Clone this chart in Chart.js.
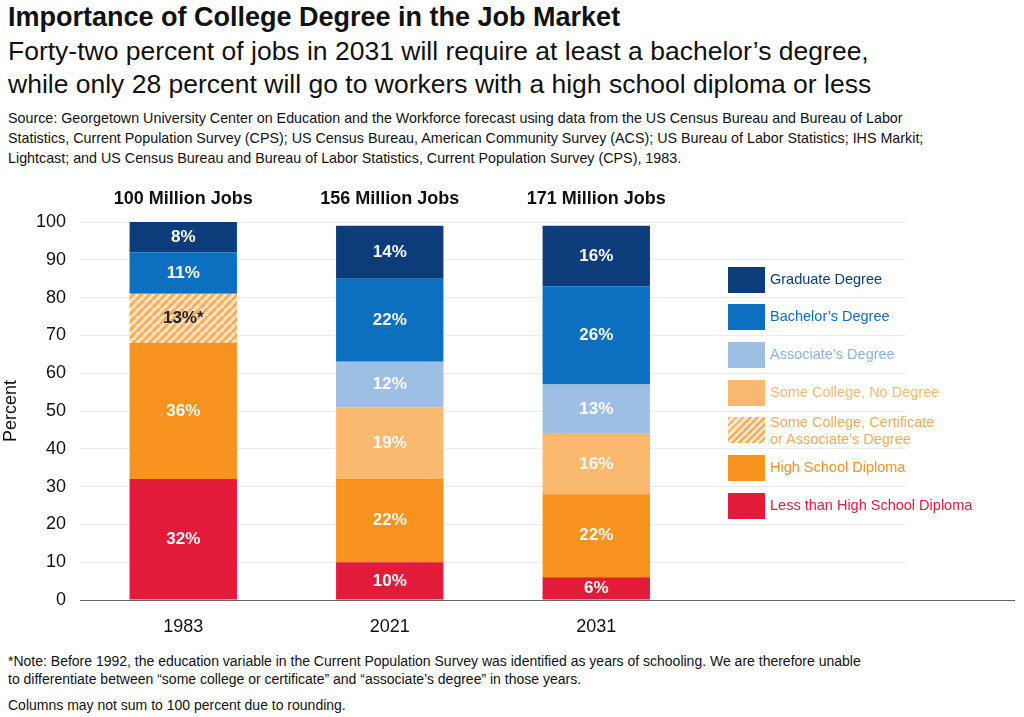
<!DOCTYPE html>
<html><head><meta charset="utf-8">
<script src="https://cdn.jsdelivr.net/npm/chart.js@4"></script>
<style>
body{margin:0;width:1024px;height:717px;background:#fff;font-family:"Liberation Sans",Arial,sans-serif;color:#111;position:relative;overflow:hidden}
.t{position:absolute;left:8px;white-space:nowrap}
#wrap{position:absolute;left:0;top:180px;width:1024px;height:460px}
.lg{position:absolute;left:728px;font-size:14.5px;line-height:17px}
.lg i{position:absolute;left:0;width:37px;height:26px}
.lg span{position:absolute;left:42px;white-space:nowrap}
</style></head><body>
<div class="t" style="top:2px;font-size:27px;font-weight:bold">Importance of College Degree in the Job Market</div>
<div class="t" style="top:35px;font-size:26.5px;line-height:33px">Forty-two percent of jobs in 2031 will require at least a bachelor’s degree,<br>while only 28 percent will go to workers with a high school diploma or less</div>
<div class="t" style="top:108px;font-size:14.3px;line-height:20px">Source: Georgetown University Center on Education and the Workforce forecast using data from the US Census Bureau and Bureau of Labor<br>Statistics, Current Population Survey (CPS); US Census Bureau, American Community Survey (ACS); US Bureau of Labor Statistics; IHS Markit;<br>Lightcast; and US Census Bureau and Bureau of Labor Statistics, Current Population Survey (CPS), 1983.</div>
<div id="wrap"><canvas id="c"></canvas></div>
<div id="legend"></div>
<div class="t" style="top:652px;font-size:14px;line-height:18px">*Note: Before 1992, the education variable in the Current Population Survey was identified as years of schooling. We are therefore unable<br>to differentiate between “some college or certificate” and “associate’s degree” in those years.</div>
<div class="t" style="top:697px;font-size:14px">Columns may not sum to 100 percent due to rounding.</div>
<script>
const years = ['1983', '2021', '2031', ''];
const jobTotals = ['100 Million Jobs', '156 Million Jobs', '171 Million Jobs'];
const lessThanHS = [32, 10, 6];
const highSchool = [36, 22, 22];
const someCollegeCert = [13, null, null];
const someCollegeNoDeg = [null, 19, 16];
const associate = [null, 12, 13];
const bachelor = [11, 22, 26];
const graduate = [8, 14, 16];

// hatch pattern for the 1983 combined category
function hatch() {
    const p = document.createElement('canvas');
    p.width = 8; p.height = 8;
    const g = p.getContext('2d');
    g.fillStyle = '#fde4c6'; g.fillRect(0, 0, 8, 8);
    g.strokeStyle = '#f9ab55'; g.lineWidth = 3;
    for (let k = -8; k <= 16; k += 8) { g.beginPath(); g.moveTo(k, 8); g.lineTo(k + 8, 0); g.stroke(); }
    return g.createPattern(p, 'repeat');
}
const hatchFill = hatch();

const series = [
    {label: 'Less than High School Diploma', data: lessThanHS, color: '#e31b3b', text: '#e31b3b'},
    {label: 'High School Diploma', data: highSchool, color: '#f7931e', text: '#f7931e'},
    {label: 'Some College, Certificate\nor Associate’s Degree', data: someCollegeCert, color: hatchFill, text: '#f9ab55', hatch: true},
    {label: 'Some College, No Degree', data: someCollegeNoDeg, color: '#fbb86f', text: '#fbb86f'},
    {label: 'Associate’s Degree', data: associate, color: '#9dbfe4', text: '#8fb3de'},
    {label: 'Bachelor’s Degree', data: bachelor, color: '#0d6fc0', text: '#0d6fc0'},
    {label: 'Graduate Degree', data: graduate, color: '#0c3d7a', text: '#0c3d7a'},
];

// html legend, top item is graduate degree
const legendY = [267, 304, 342, 380, 417, 455, 493];
let html = '';
series.slice().reverse().forEach((s, i) => {
    const bg = s.hatch ? 'repeating-linear-gradient(135deg,#f9ab55 0 2px,#fde4c6 2px 5px)' : s.color;
    const two = s.label.includes('\n');
    html += '<div class="lg" style="top:' + legendY[i] + 'px"><i style="background:' + bg + '"></i><span style="color:' + s.text + ';top:' + (two ? -3 : 4) + 'px">' + s.label.replace('\n', '<br>') + '</span></div>';
});
document.getElementById('legend').innerHTML = html;

const labelPlugin = {
    id: 'labels',
    afterDatasetsDraw(chart) {
        const ctx = chart.ctx;
        ctx.save();
        ctx.textAlign = 'center';
        ctx.textBaseline = 'middle';
        ctx.font = 'bold 17px "Liberation Sans", Arial';
        chart.data.datasets.forEach((ds, di) => {
            chart.getDatasetMeta(di).data.forEach((bar, i) => {
                const v = ds.data[i];
                if (v == null) return;
                const ctr = bar.getCenterPoint();
                ctx.fillStyle = series[di].hatch ? '#222' : '#fff';
                ctx.fillText(v + '%' + (series[di].hatch ? '*' : ''), ctr.x, ctr.y);
            });
        });
        // column totals above bars
        ctx.fillStyle = '#111';
        ctx.font = 'bold 18px "Liberation Sans", Arial';
        const x = chart.scales.x;
        jobTotals.forEach((t, i) => ctx.fillText(t, x.getPixelForValue(i), 19));
        // baseline across to the right edge
        const a = chart.chartArea;
        ctx.strokeStyle = '#666'; ctx.lineWidth = 1;
        ctx.beginPath(); ctx.moveTo(a.left, a.bottom + 0.5); ctx.lineTo(1015, a.bottom + 0.5); ctx.stroke();
        ctx.restore();
    }
};

new Chart(document.getElementById('c'), {
    type: 'bar',
    data: {
        labels: years,
        datasets: series.map(s => ({label: s.label, data: s.data, backgroundColor: s.color,
            barPercentage: 0.52, categoryPercentage: 1, skipNull: true}))
    },
    options: {
        responsive: true,
        maintainAspectRatio: false,
        animation: false,
        layout: {padding: {top: 42, right: 118, left: 0, bottom: 0}},
        plugins: {legend: {display: false}, tooltip: {enabled: false}},
        scales: {
            x: {
                stacked: true,
                grid: {display: false},
                border: {display: false},
                ticks: {color: '#111', font: {size: 18, family: '"Liberation Sans", Arial'}, padding: 8},
                afterFit(s) { s.height = 40; }
            },
            y: {
                stacked: true,
                min: 0, max: 100,
                ticks: {stepSize: 10, color: '#111', font: {size: 18, family: '"Liberation Sans", Arial'}, padding: 14},
                grid: {color: '#ececec', drawTicks: false},
                border: {display: false},
                title: {display: true, text: 'Percent', color: '#111', font: {size: 18, family: '"Liberation Sans", Arial'}, padding: 0},
                afterFit(s) { s.width = 80; }
            }
        }
    },
    plugins: [labelPlugin]
});
</script>
</body></html>
